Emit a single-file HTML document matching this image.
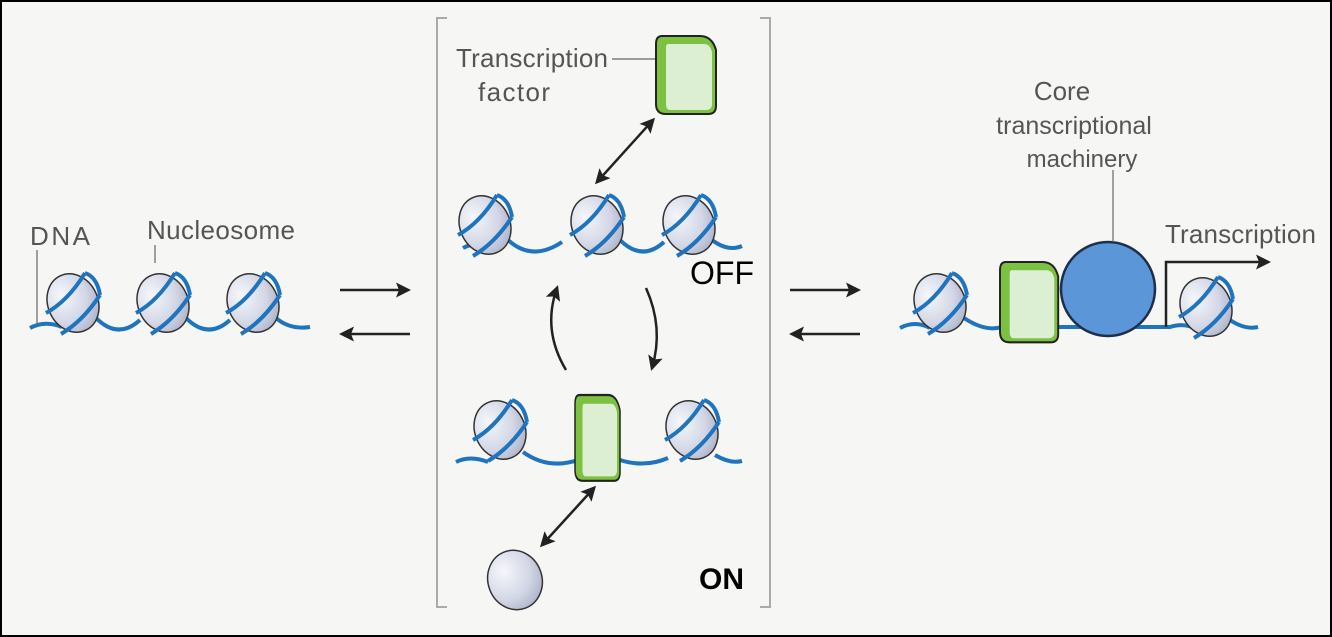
<!DOCTYPE html>
<html><head><meta charset="utf-8"><style>
html,body{margin:0;padding:0;background:#fff}
svg{display:block}
text{font-family:"Liberation Sans",sans-serif}
</style></head><body>
<svg width="1332" height="637" viewBox="0 0 1332 637" xmlns="http://www.w3.org/2000/svg">
<defs>
<radialGradient id="ng" cx="0.35" cy="0.3" r="0.8">
<stop offset="0" stop-color="#f6f7fb"/><stop offset="0.6" stop-color="#d3d7e6"/><stop offset="1" stop-color="#a9afc6"/>
</radialGradient>
<g id="nuc">
<ellipse cx="0" cy="0" rx="25" ry="30" transform="rotate(-25)" fill="url(#ng)" stroke="#333" stroke-width="1.5"/>
<path d="M-27,10 Q-5,-2 12,-30" fill="none" stroke="#1f74c0" stroke-width="4"/>
<path d="M-12,31 Q10,18 27,-8" fill="none" stroke="#1f74c0" stroke-width="4"/>
<path d="M12,-30 Q24,-26 27,-8" fill="none" stroke="#1f74c0" stroke-width="4"/>
</g>
<g id="tf">
<path d="M6,0 H44 Q56,0 60,14 V70 Q60,78 52,78 H10 Q0,78 0,68 V8 Q0,0 6,0 Z" fill="#7cc142" stroke="#222" stroke-width="2"/>
<path d="M12,8 H48 Q54,8 56,16 V68 Q56,74 50,74 H14 Q10,74 10,68 V12 Q10,8 12,8 Z" fill="#dcefd3"/>
</g>
<marker id="ah" viewBox="0 0 10 10" refX="8" refY="5" markerWidth="6" markerHeight="6" orient="auto-start-reverse"><path d="M0,0 L10,5 L0,10 L2,5 Z" fill="#222"/></marker>
</defs>
<rect x="1" y="1" width="1330" height="635" fill="#f6f6f4" stroke="#000" stroke-width="2"/>

<!-- Left -->
<path d="M30,328 Q45,320 62,327 M96,318 Q118,340 140,320 M186,318 Q208,340 230,320 M276,318 Q290,330 310,327" fill="none" stroke="#1f74c0" stroke-width="4"/>
<use href="#nuc" x="73" y="303"/><use href="#nuc" x="163" y="303"/><use href="#nuc" x="253" y="303"/>
<line x1="37" y1="250" x2="37" y2="325" stroke="#666" stroke-width="1.2"/>
<line x1="155" y1="245" x2="155" y2="263" stroke="#666" stroke-width="1.2"/>
<text x="30" y="245" font-size="26" fill="#555" textLength="60">DNA</text>
<text x="147" y="239" font-size="26" fill="#555" textLength="148">Nucleosome</text>

<!-- equilibrium arrows -->
<g stroke="#222" stroke-width="2.5" marker-end="url(#ah)">
<line x1="340" y1="290" x2="408" y2="290"/><line x1="410" y1="334" x2="342" y2="334"/>
<line x1="790" y1="290" x2="858" y2="290"/><line x1="860" y1="334" x2="792" y2="334"/>
</g>

<!-- bracket -->
<path d="M447,18 H437 V607 H447 M760,18 H770 V607 H760" fill="none" stroke="#aaa" stroke-width="2"/>

<text x="456" y="67" font-size="26" fill="#555" textLength="152">Transcription</text>
<text x="478" y="101" font-size="26" fill="#555" textLength="72">factor</text>
<line x1="612" y1="59" x2="657" y2="59" stroke="#666" stroke-width="1.2"/>
<use href="#tf" x="656" y="36"/>
<line x1="653" y1="120" x2="597" y2="182" stroke="#222" stroke-width="2.5" marker-start="url(#ah)" marker-end="url(#ah)"/>

<path d="M463,248 Q478,240 495,248 M508,240 Q532,262 562,242 M620,240 Q642,262 664,242 M712,240 Q728,252 742,246" fill="none" stroke="#1f74c0" stroke-width="4"/>
<use href="#nuc" x="485" y="225"/><use href="#nuc" x="597" y="225"/><use href="#nuc" x="689" y="225"/>
<text x="690" y="284" font-size="32" fill="#000">OFF</text>

<path d="M566,370 Q542,330 557,288" fill="none" stroke="#222" stroke-width="2.5" marker-end="url(#ah)"/>
<path d="M646,288 Q664,328 652,368" fill="none" stroke="#222" stroke-width="2.5" marker-end="url(#ah)"/>

<path d="M456,462 Q470,455 488,462 M523,452 Q548,470 578,460 M620,460 Q645,468 668,458 M715,455 Q730,464 742,461" fill="none" stroke="#1f74c0" stroke-width="4"/>
<use href="#nuc" x="500" y="430"/><use href="#nuc" x="692" y="430"/>
<use href="#tf" transform="translate(575,395) scale(0.75,1.1)"/>
<line x1="594" y1="488" x2="542" y2="545" stroke="#222" stroke-width="2.5" marker-start="url(#ah)" marker-end="url(#ah)"/>
<ellipse cx="515" cy="580" rx="27" ry="30" transform="rotate(-20 515 580)" fill="url(#ng)" stroke="#333" stroke-width="1.5"/>
<text x="699" y="589" font-size="30" font-weight="bold" fill="#000">ON</text>

<!-- Right -->
<path d="M900,328 Q915,320 930,328 M964,318 Q985,332 1002,327 M1055,327 H1170 Q1185,322 1198,330 M1230,320 Q1245,330 1258,327" fill="none" stroke="#1f74c0" stroke-width="4"/>
<use href="#nuc" x="940" y="303"/><use href="#nuc" x="1206" y="307"/>
<use href="#tf" transform="translate(1000,262) scale(0.97,1.03)"/>
<circle cx="1108" cy="289" r="47" fill="#5b96d8" stroke="#1e2f4a" stroke-width="2.5"/>
<line x1="1113" y1="170" x2="1113" y2="242" stroke="#666" stroke-width="1.2"/>
<text x="1062" y="100" font-size="26" fill="#555" text-anchor="middle">Core</text>
<text x="1074" y="134" font-size="25" fill="#555" text-anchor="middle">transcriptional</text>
<text x="1082" y="167" font-size="24" fill="#555" text-anchor="middle">machinery</text>
<text x="1165" y="243" font-size="26" fill="#555" textLength="151">Transcription</text>
<path d="M1166,327 V262 H1268" fill="none" stroke="#222" stroke-width="2.5" marker-end="url(#ah)"/>
</svg>
</body></html>
